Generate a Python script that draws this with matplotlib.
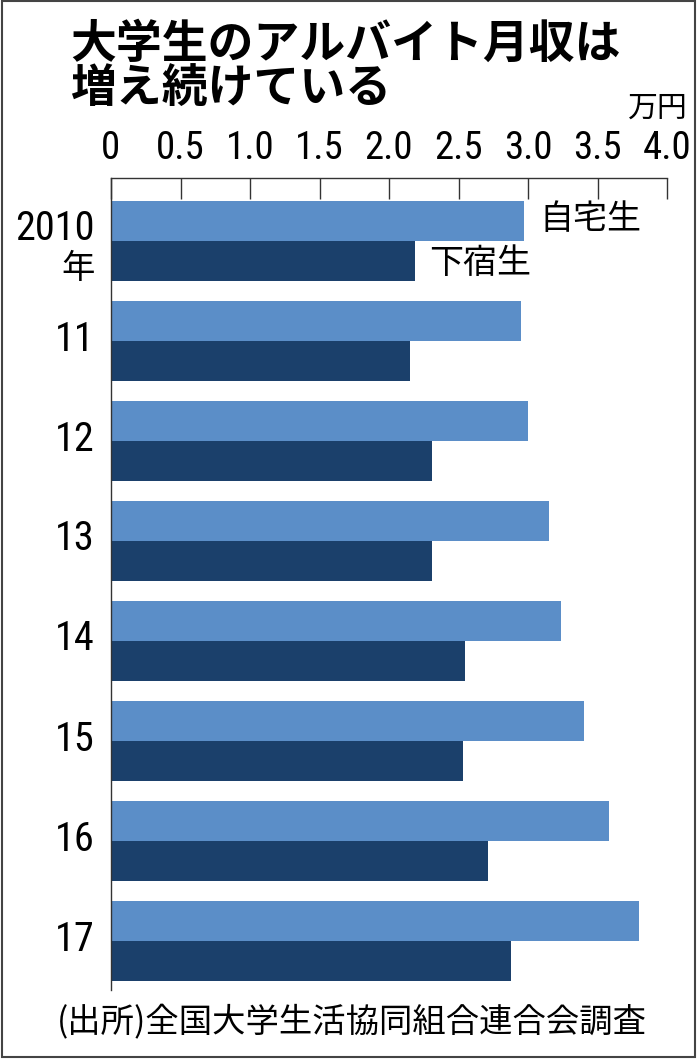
import matplotlib
matplotlib.use("Agg")
import matplotlib.pyplot as plt
from matplotlib.patches import Rectangle
import numpy as np

plt.rcParams['font.family'] = ['Noto Sans CJK JP', 'DejaVu Sans']
NUM = ['Roboto Condensed', 'Noto Sans CJK JP', 'DejaVu Sans']

years = ["2010", "11", "12", "13", "14", "15", "16", "17"]
year_unit = "年"
jitaku = [2.97, 2.95, 3.00, 3.15, 3.24, 3.40, 3.58, 3.80]   # 自宅生
geshuku = [2.19, 2.15, 2.31, 2.31, 2.55, 2.53, 2.71, 2.88]  # 下宿生
xticks = [0, 0.5, 1.0, 1.5, 2.0, 2.5, 3.0, 3.5, 4.0]
xticklabels = ["0", "0.5", "1.0", "1.5", "2.0", "2.5", "3.0", "3.5", "4.0"]

W, H = 698, 1060
fig = plt.figure(figsize=(W/100, H/100), dpi=100)
fig.patch.set_facecolor('white')

def fx(px): return px / W
def fy(py): return 1 - py / H

ax = fig.add_axes([fx(111), fy(990), fx(667) - fx(111), fy(178) - fy(990)])

light = '#5b8ec8'
dark = '#1b406b'
y = np.arange(len(years))
bh = 0.4
ax.barh(y - bh/2, jitaku, height=bh, color=light, edgecolor='none')
ax.barh(y + bh/2, geshuku, height=bh, color=dark, edgecolor='none')

ax.set_xlim(0, 4.0)
ax.set_ylim(7.49, -0.63)

for s in ['right', 'bottom']:
    ax.spines[s].set_visible(False)
for s in ['top', 'left']:
    ax.spines[s].set_linewidth(1.0)
    ax.spines[s].set_color('#333333')

ax.xaxis.tick_top()
ax.set_xticks(xticks)
ax.set_xticklabels(xticklabels, fontsize=28, family=NUM)
ax.tick_params(axis='x', direction='in', length=15, width=1.0, color='#333333', pad=8)
ax.set_yticks([])

# year labels
xl = -(111 - 95) / 139
for i, lab in enumerate(years):
    if i == 0:
        ax.text(xl, i - 0.13, lab, ha='right', va='center', fontsize=29, family=NUM)
        ax.text(xl, i + 0.27, year_unit, ha='right', va='center', fontsize=24)
    else:
        ax.text(xl, i - 0.02, lab, ha='right', va='center', fontsize=29, family=NUM)

# series labels
ax.text(jitaku[0] + 0.11, 0 - bh/2 - 0.02, "自宅生", ha='left', va='center', fontsize=24.5)
ax.text(geshuku[0] + 0.1, 0 + bh/2 + 0.02, "下宿生", ha='left', va='center', fontsize=24.5)

# unit
fig.text(fx(688), fy(108), "万円", ha='right', va='center', fontsize=21.5)

# title
fig.text(fx(70), fy(45), "大学生のアルバイト月収は", ha='left', va='center',
         fontsize=33, fontweight='bold')
fig.text(fx(70), fy(90), "増え続けている", ha='left', va='center',
         fontsize=33, fontweight='bold')

# source
fig.text(fx(57), fy(1023), "(出所)全国大学生活協同組合連合会調査", ha='left', va='center',
         fontsize=24)

# frame
fig.patches.append(Rectangle((fx(2), fy(1057)), fx(695) - fx(2), fy(1) - fy(1057),
                             transform=fig.transFigure, fill=False,
                             edgecolor='#444444', linewidth=1.5))

fig.savefig("out.png", dpi=100)
